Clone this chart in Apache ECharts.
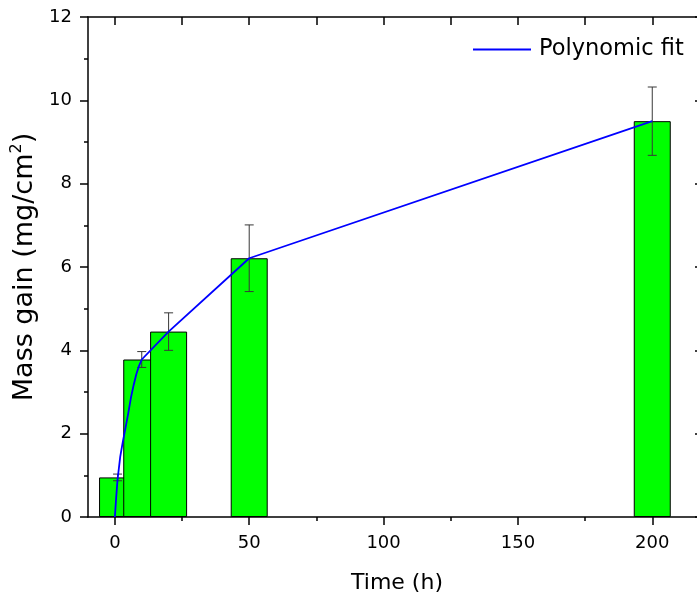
<!DOCTYPE html>
<html>
<head>
<meta charset="utf-8">
<script src="https://cdn.jsdelivr.net/npm/echarts@6/dist/echarts.min.js"></script>
<style>
  html, body { margin: 0; padding: 0; background: #ffffff; }
  #chart { width: 697px; height: 599px; }
</style>
</head>
<body>
<div id="chart"></div>
<script>
// Oxidation mass gain measured at each exposure time
const times = [1, 10, 20, 50, 200];
const massGain = [0.95, 3.78, 4.45, 6.21, 9.5];
const massErr = [0.08, 0.19, 0.45, 0.8, 0.82];

// Polynomial fit curve
const fitTimes = [0, 0.5, 1, 2, 3, 4, 5, 6, 7, 8, 9, 10, 20, 50, 200];
const fitValues = [0, 0.48, 0.9, 1.45, 1.82, 2.15, 2.5, 2.87, 3.17, 3.43, 3.63, 3.78, 4.45, 6.21, 9.5];

// Axis ticks
const xMajorTicks = [0, 50, 100, 150, 200];
const xMinorTicks = [25, 75, 125, 175];
const xTopTicks = [0, 25, 50, 75, 100, 125, 150, 175, 200];

const FONT = 'DejaVu Sans';
const chart = echarts.init(document.getElementById('chart'), null, { renderer: 'canvas' });

const axisLineStyle = { color: '#000', width: 1.5 };

const option = {
  backgroundColor: '#ffffff',
  animation: false,
  grid: { left: 88, top: 17, width: 618, height: 500, outerBoundsMode: 'none', containLabel: false },
  legend: {
    data: [{ name: 'Polynomic fit', icon: 'rect' }],
    left: 473,
    top: 38,
    padding: 0,
    itemWidth: 58,
    itemHeight: 2,
    itemStyle: { color: '#0000ff' },
    textStyle: { fontFamily: FONT, fontSize: 22.5, color: '#000', padding: [0, 0, 0, 3] }
  },
  xAxis: [
    {
      type: 'value', position: 'bottom', min: -10, max: 220,
      name: 'Time (h)', nameLocation: 'middle', nameGap: 55,
      nameTextStyle: { fontFamily: FONT, fontSize: 22, color: '#000' },
      axisLine: { show: true, onZero: false, lineStyle: axisLineStyle },
      axisTick: { show: true, inside: false, length: 8, customValues: xMajorTicks, lineStyle: { color: '#000', width: 1.5 } },
      axisLabel: { show: true, margin: 17, customValues: xMajorTicks, fontFamily: FONT, fontSize: 18, color: '#000' },
      splitLine: { show: false }
    },
    {
      type: 'value', position: 'bottom', min: -10, max: 220,
      axisLine: { show: false, onZero: false },
      axisTick: { show: true, inside: false, length: 4, customValues: xMinorTicks, lineStyle: { color: '#000', width: 1.5 } },
      axisLabel: { show: false },
      splitLine: { show: false }
    },
    {
      type: 'value', position: 'top', min: -10, max: 220,
      axisLine: { show: true, onZero: false, lineStyle: axisLineStyle },
      axisTick: { show: true, inside: true, length: 8, customValues: xTopTicks, lineStyle: { color: '#000', width: 1.5 } },
      axisLabel: { show: false },
      splitLine: { show: false }
    }
  ],
  yAxis: [
    {
      type: 'value', position: 'left', min: 0, max: 12, interval: 2,
      name: '{a|Mass gain (mg/cm}{s|2}{a|)}', nameLocation: 'middle', nameGap: 31, nameRotate: 90,
      nameTextStyle: {
        fontFamily: FONT, color: '#000',
        rich: {
          a: { fontFamily: FONT, fontSize: 27, color: '#000', lineHeight: 31 },
          s: { fontFamily: FONT, fontSize: 16, color: '#000', verticalAlign: 'top', lineHeight: 31, padding: [0, 0, 10, 0] }
        }
      },
      axisLine: { show: true, onZero: false, lineStyle: axisLineStyle },
      axisTick: { show: true, inside: false, length: 8, lineStyle: { color: '#000', width: 1.5 } },
      minorTick: { show: true, splitNumber: 2, length: 4, lineStyle: { color: '#000', width: 1.5 } },
      axisLabel: { show: true, margin: 16, fontFamily: FONT, fontSize: 18, color: '#000' },
      splitLine: { show: false }
    },
    {
      type: 'value', position: 'right', min: 0, max: 12, interval: 2, offset: -3,
      axisLine: { show: true, onZero: false, lineStyle: axisLineStyle },
      axisTick: { show: true, inside: true, length: 8, lineStyle: { color: '#000', width: 1.5 } },
      axisLabel: { show: false },
      splitLine: { show: false }
    }
  ],
  series: [
    {
      name: 'Mass gain',
      type: 'bar',
      xAxisIndex: 0, yAxisIndex: 0,
      barWidth: 37,
      itemStyle: { color: '#00ff00', borderColor: '#000', borderWidth: 1 },
      data: times.map((t, i) => [t, massGain[i]]),
      z: 2
    },
    {
      name: 'Error',
      type: 'custom',
      xAxisIndex: 0, yAxisIndex: 0,
      encode: { x: 0, y: 1 },
      data: times.map((t, i) => [t, massGain[i], massErr[i]]),
      renderItem: function (params, api) {
        const x = api.value(0), y = api.value(1), e = api.value(2);
        const hi = api.coord([x, y + e]);
        const lo = api.coord([x, y - e]);
        const half = 4.5;
        const st = { stroke: '#383838', lineWidth: 1 };
        return {
          type: 'group',
          children: [
            { type: 'line', shape: { x1: hi[0], y1: hi[1], x2: lo[0], y2: lo[1] }, style: st },
            { type: 'line', shape: { x1: hi[0] - half, y1: hi[1], x2: hi[0] + half, y2: hi[1] }, style: st },
            { type: 'line', shape: { x1: lo[0] - half, y1: lo[1], x2: lo[0] + half, y2: lo[1] }, style: st }
          ]
        };
      },
      z: 3
    },
    {
      name: 'Polynomic fit',
      type: 'line',
      xAxisIndex: 0, yAxisIndex: 0,
      data: fitTimes.map((t, i) => [t, fitValues[i]]),
      symbol: 'none',
      showSymbol: false,
      smooth: false,
      lineStyle: { color: '#0000ff', width: 1.8 },
      itemStyle: { color: '#0000ff' },
      z: 4
    }
  ]
};

chart.setOption(option);
</script>
</body>
</html>
